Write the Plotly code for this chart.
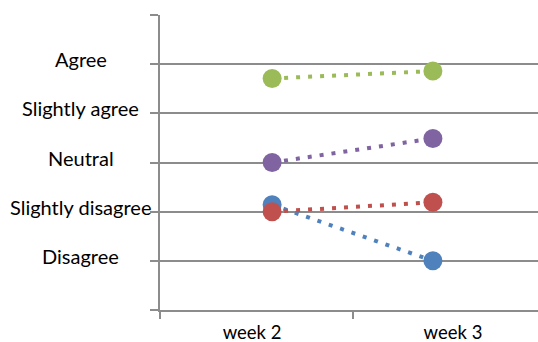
import plotly.graph_objects as go

# Response scale (1 = Disagree ... 5 = Agree)
scale_labels = ["Disagree", "Slightly disagree", "Neutral", "Slightly agree", "Agree"]
scale_values = [1, 2, 3, 4, 5]

weeks = ["week 2", "week 3"]

# Mean response per group, week 2 -> week 3
blue_vals = [2.14, 1.0]
red_vals = [2.0, 2.19]
purple_vals = [3.0, 3.49]
green_vals = [4.71, 4.86]

series = [
    (blue_vals, "#4F81BD"),
    (red_vals, "#C0504D"),
    (purple_vals, "#8064A2"),
    (green_vals, "#9BBB59"),
]

GRID = "#8C8C8C"
FONT = "Lato, 'Open Sans', sans-serif"
TXT = "#000000"

# markers sit slightly inward from the category centres
inset = 0.1
xpos = [i + (inset if i == 0 else -inset) for i in range(len(weeks))]

fig = go.Figure()
for vals, col in series:
    fig.add_trace(go.Scatter(
        x=xpos, y=vals, mode="lines+markers",
        line=dict(color=col, width=4, dash="4px,8px"),
        marker=dict(color=col, size=19, line=dict(width=0)),
        hoverinfo="skip", showlegend=False,
    ))

x_lo, x_hi = -0.458, 1.423

# scale labels, centred to the left of the plot
for v, lab in zip(scale_values, scale_labels):
    fig.add_annotation(
        x=-0.209, xref="paper", y=v, yref="y", yshift=5,
        text=lab, showarrow=False, xanchor="center", yanchor="middle",
        font=dict(family=FONT, size=20, color=TXT),
    )

fig.update_layout(
    width=538, height=342,
    margin=dict(l=160, r=0, t=15, b=32),
    paper_bgcolor="white", plot_bgcolor="white",
    xaxis=dict(
        range=[x_lo, x_hi], tickmode="array",
        tickvals=[x_lo, 0.5], ticktext=["", ""],
        ticks="outside", ticklen=7, tickwidth=2, tickcolor=GRID,
        showgrid=False, zeroline=False,
        showline=True, linecolor=GRID, linewidth=2,
        fixedrange=True,
    ),
    xaxis2=dict(
        overlaying="x", matches="x", side="bottom",
        range=[x_lo, x_hi], tickmode="array",
        tickvals=list(range(len(weeks))), ticktext=weeks,
        ticks="", showgrid=False, zeroline=False, showline=False,
        tickfont=dict(family=FONT, size=18.5, color=TXT),
        ticklabelstandoff=9,
    ),
    yaxis=dict(
        range=[0, 6], tickmode="array", tickvals=[0, 1, 2, 3, 4, 5, 6],
        ticktext=[""] * 7,
        ticks="outside", ticklen=8, tickwidth=2, tickcolor=GRID,
        showgrid=True, gridcolor=GRID, gridwidth=2,
        zeroline=False, showline=True, linecolor=GRID, linewidth=2,
        fixedrange=True,
    ),
)

# invisible trace to attach the week labels axis
fig.add_trace(go.Scatter(x=[0], y=[0], xaxis="x2", mode="markers",
                         marker=dict(opacity=0), hoverinfo="skip",
                         showlegend=False))

fig.write_html("out.html")
